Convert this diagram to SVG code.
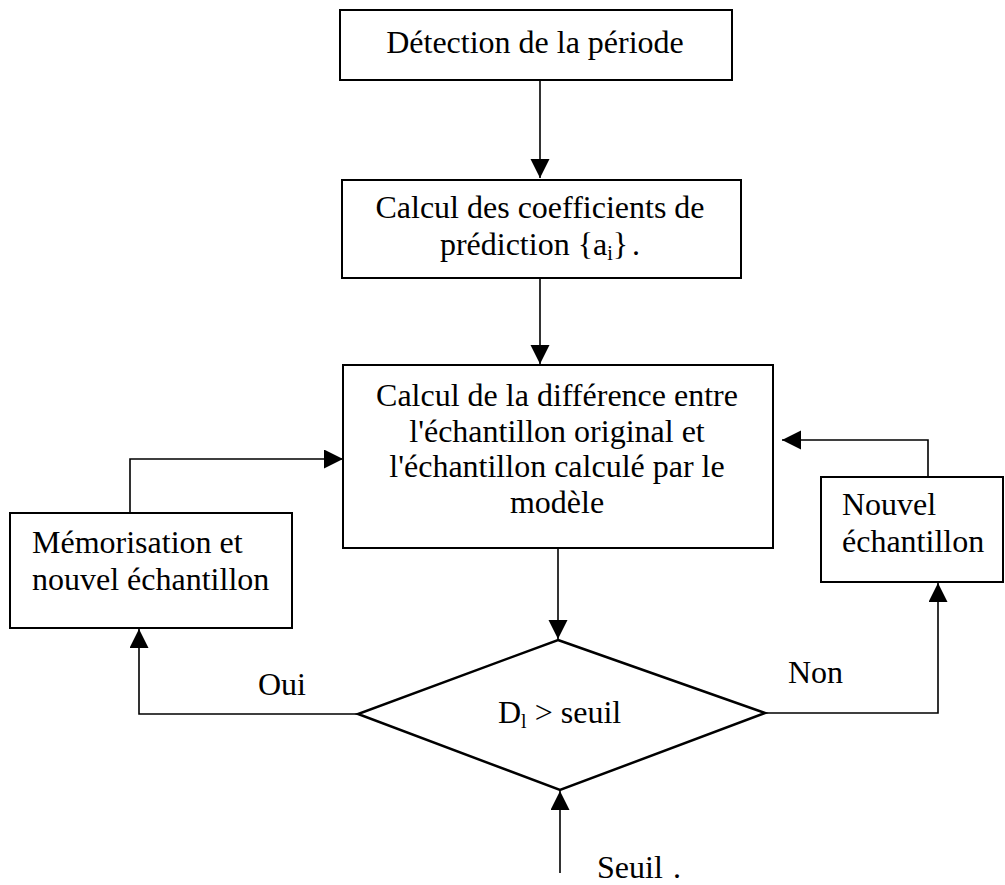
<svg xmlns="http://www.w3.org/2000/svg" width="1005" height="885" viewBox="0 0 1005 885">
  <style>
    .box { fill: #fff; stroke: #000; stroke-width: 2; }
    .dia { fill: #fff; stroke: #000; stroke-width: 2.5; }
    .wire { fill: none; stroke: #000; stroke-width: 1.6; }
    text { font-family: "Liberation Serif", "Times New Roman", serif; font-size: 32px; fill: #000; }
    .c { text-anchor: middle; }
    .sub { font-size: 20px; }
  </style>
  <defs>
    <marker id="arrow" markerUnits="userSpaceOnUse" markerWidth="20" markerHeight="20" refX="19" refY="9.5" orient="auto">
      <path d="M0,0 L19,9.5 L0,19 z" fill="#000"/>
    </marker>
  </defs>

  <rect width="1005" height="885" fill="#fff"/>

  <!-- connectors -->
  <g id="connectors">
    <line class="wire" x1="540" y1="80" x2="540" y2="178" marker-end="url(#arrow)"/>
    <line class="wire" x1="540" y1="278" x2="540" y2="364" marker-end="url(#arrow)"/>
    <line class="wire" x1="558" y1="548" x2="558" y2="639" marker-end="url(#arrow)"/>
    <polyline class="wire" points="358,714 139,714 139,629" marker-end="url(#arrow)"/>
    <polyline class="wire" points="130,513 130,459 343,459" marker-end="url(#arrow)"/>
    <polyline class="wire" points="765,713 938,713 938,583" marker-end="url(#arrow)"/>
    <polyline class="wire" points="928,477 928,440 782,440" marker-end="url(#arrow)"/>
    <line class="wire" x1="560" y1="873" x2="560" y2="791" marker-end="url(#arrow)"/>
  </g>

  <!-- period detection -->
  <g id="node-detection">
    <rect class="box" x="340" y="10" width="392" height="70"/>
    <text class="c" x="535" y="53">Détection de la période</text>
  </g>

  <!-- prediction coefficients -->
  <g id="node-coefficients">
    <rect class="box" x="342" y="180" width="399" height="98"/>
    <text class="c" x="540" y="218">Calcul des coefficients de</text>
    <text class="c" x="540" y="255">prédiction {a<tspan class="sub" dy="5">i</tspan><tspan dy="-5">}</tspan><tspan dx="4">.</tspan></text>
  </g>

  <!-- difference computation -->
  <g id="node-difference">
    <rect class="box" x="343" y="365" width="430" height="183"/>
    <text class="c" x="557" y="406">Calcul de la différence entre</text>
    <text class="c" x="557" y="442">l'échantillon original et</text>
    <text class="c" x="557" y="477">l'échantillon calculé par le</text>
    <text class="c" x="557" y="513">modèle</text>
  </g>

  <!-- store and next sample -->
  <g id="node-memorisation">
    <rect class="box" x="10" y="513" width="282" height="115"/>
    <text x="32" y="553">Mémorisation et</text>
    <text x="32" y="590">nouvel échantillon</text>
  </g>

  <!-- next sample -->
  <g id="node-nouvel">
    <rect class="box" x="821" y="477" width="182" height="105"/>
    <text x="842" y="515">Nouvel</text>
    <text x="842" y="552">échantillon</text>
  </g>

  <!-- threshold test -->
  <g id="node-test">
    <polygon class="dia" points="558,640 765,713 560,790 358,714"/>
    <text x="498" y="723">D<tspan class="sub" dy="5">l</tspan><tspan dy="-5"> &gt; seuil</tspan></text>
  </g>

  <!-- branch labels -->
  <g id="labels">
    <text x="258" y="695">Oui</text>
    <text x="788" y="683">Non</text>
    <text x="597" y="878">Seuil</text>
    <text x="673" y="878">.</text>
  </g>
</svg>
